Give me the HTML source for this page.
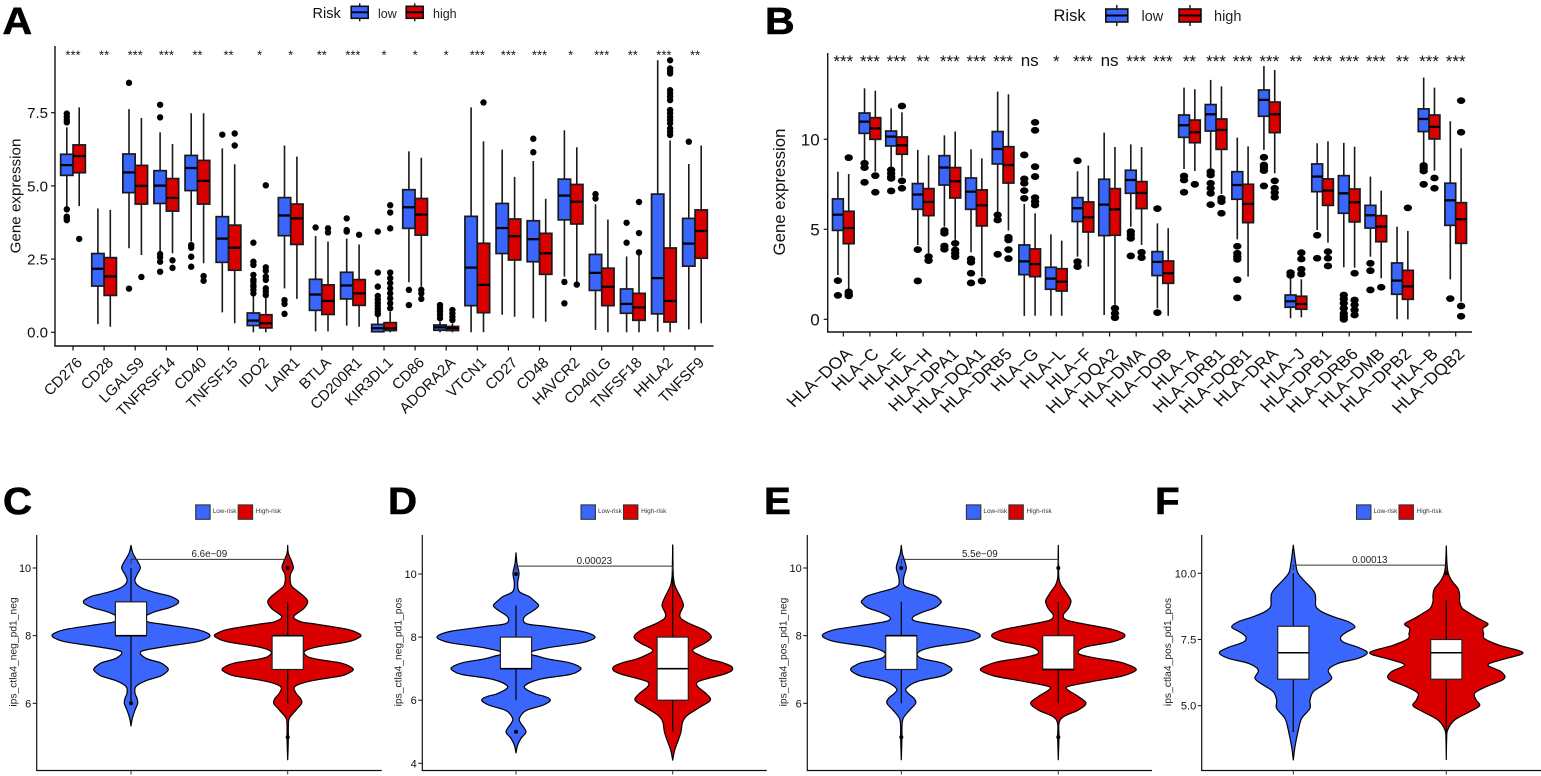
<!DOCTYPE html>
<html lang="en">
<head>
<meta charset="utf-8">
<title>Immune checkpoint, HLA expression and IPS by risk group</title>
<style>
html,body{margin:0;padding:0;background:#fff}
svg{display:block;font-family:"Liberation Sans",Arial,sans-serif}
.letter{font-size:38px;font-weight:700;fill:#000;stroke:#000;stroke-width:.6px}
</style>
</head>
<body>
<svg id="figure" xmlns="http://www.w3.org/2000/svg" width="1541" height="776" viewBox="0 0 1541 776">
  <rect width="1541" height="776" fill="#fff"/>
  <text class="letter" transform="translate(2.5,34) scale(1.08,1)">A</text>
  <text class="letter" transform="translate(765,34) scale(1.08,1)">B</text>
  <text class="letter" transform="translate(3,514) scale(1.06,1)">C</text>
  <text class="letter" transform="translate(388,514) scale(1.06,1)">D</text>
  <text class="letter" transform="translate(764,514) scale(1.06,1)">E</text>
  <text class="letter" transform="translate(1155,514) scale(1.06,1)">F</text>
</svg>
<script>
/* ---------- Panel A data ---------- */
const aCategories=["CD276","CD28","LGALS9","TNFRSF14","CD40","TNFSF15","IDO2","LAIR1","BTLA","CD200R1","KIR3DL1","CD86","ADORA2A","VTCN1","CD27","CD48","HAVCR2","CD40LG","TNFSF18","HHLA2","TNFSF9"];
const aSignificance=["***","**","***","***","**","**","*","*","**","***","*","*","*","***","***","***","*","***","**","***","**"];
const aYTicks=[0,2.5,5,7.5];
const aYTickLabels=["0.0","2.5","5.0","7.5"];
/* each row: lower whisker, q1, median, q3, upper whisker */
const aLowStats=[[4.29,5.36,5.71,6.08,7.0],[.28,1.58,2.17,2.69,4.23],[2.87,4.77,5.46,6.09,7.62],[2.75,4.4,5.01,5.52,6.83],[3.1,4.84,5.61,6.04,7.48],[.68,2.39,3.2,3.95,6.28],[0,.23,.4,.66,1.33],[1.5,3.3,3.99,4.6,6.38],[.03,.75,1.29,1.81,3.29],[.23,1.14,1.6,2.05,3.2],[0,.02,.14,.27,.59],[1.71,3.55,4.27,4.87,6.18],[0,.07,.17,.25,.36],[0,.91,2.21,3.96,7.68],[.6,2.69,3.56,4.4,6.24],[.48,2.41,3.18,3.81,5.85],[1.9,3.84,4.67,5.23,6.9],[.08,1.43,2.03,2.66,4.37],[0,.65,.97,1.48,2.59],[.02,.63,1.85,4.72,9.29],[.1,2.26,3.03,3.89,5.75]];
const aHighStats=[[4.31,5.45,6.02,6.4,7.68],[.19,1.26,1.91,2.55,4.18],[2.64,4.38,5.0,5.7,7.32],[2.7,4.14,4.59,5.25,6.43],[2.36,4.38,5.17,5.87,7.48],[.31,2.12,2.89,3.66,5.74],[0,.15,.31,.6,1.22],[1.14,3.0,3.89,4.38,6.0],[.03,.61,1.07,1.62,3.1],[.19,.92,1.33,1.8,3.0],[0,.06,.14,.33,.7],[1.56,3.32,4.02,4.57,5.96],[0,.06,.14,.2,.3],[0,.67,1.62,3.04,6.52],[.53,2.47,3.28,3.87,5.31],[.36,1.98,2.7,3.38,4.56],[1.73,3.7,4.46,5.05,6.32],[0,.91,1.55,2.19,3.85],[0,.41,.85,1.33,2.64],[0,.35,1.07,2.88,6.55],[.31,2.53,3.46,4.18,6.38]];
const aLowOutliers=[[7.47,7.36,7.25,7.17,4.2,3.95,3.9,3.83],[],[8.52,1.49],[7.77,7.34,2.67,2.56,2.41,2.07],[2.98,2.89,2.58,2.24],[6.75],[3.06,2.41,2.3,1.96,1.8,1.73,1.62,1.56,1.45,1.33],[1.1,.97,.63],[3.58],[3.89,3.49,3.44],[3.44,2.04,1.56,1.24,1.12,1.0,.9,.8,.7,.62],[1.45,.93],[.93,.82,.71,.6,.48],[],[],[6.61,6.15],[1.72,.99],[4.72,4.57],[3.74,3.06],[],[6.51]];
const aHighOutliers=[[3.19],[],[1.89],[2.46,2.2],[1.92,1.76],[6.79,6.38],[5.02,2.22,2.1,1.9,1.79,1.5,1.39,1.27],[],[3.55,3.41],[3.33],[4.34,4.09,3.55,2.04,1.85,1.68,1.5,1.33,1.16,.99,.82],[1.45,1.33,1.14],[.76,.65,.53,.42],[7.85],[],[],[1.63],[],[4.45,3.39,2.73],[9.29,9.01,8.93,8.84,8.27,8.16,8.05,7.93,7.59,7.48,7.36,7.25,7.14,6.96,6.85,6.74],[]];

/* ---------- Panel B data ---------- */
const bCategories=["HLA\u2212DOA","HLA\u2212C","HLA\u2212E","HLA\u2212H","HLA\u2212DPA1","HLA\u2212DQA1","HLA\u2212DRB5","HLA\u2212G","HLA\u2212L","HLA\u2212F","HLA\u2212DQA2","HLA\u2212DMA","HLA\u2212DOB","HLA\u2212A","HLA\u2212DRB1","HLA\u2212DQB1","HLA\u2212DRA","HLA\u2212J","HLA\u2212DPB1","HLA\u2212DRB6","HLA\u2212DMB","HLA\u2212DPB2","HLA\u2212B","HLA\u2212DQB2"];
const bSignificance=["***","***","***","**","***","***","***","ns","*","***","ns","***","***","**","***","***","***","**","***","***","***","**","***","***"];
const bYTicks=[0,5,10];
const bYTickLabels=["0","5","10"];
const bLowStats=[[2.46,4.94,5.81,6.69,8.2],[8.85,10.33,10.98,11.46,12.83],[8.48,9.63,10.15,10.46,11.72],[4.13,6.11,6.93,7.54,9.41],[5.15,7.46,8.43,9.09,10.22],[3.72,6.11,7.09,7.85,9.44],[5.98,8.63,9.46,10.43,12.65],[.19,2.48,3.22,4.13,6.41],[.2,1.67,2.26,2.89,4.72],[3.48,5.43,6.17,6.76,8.22],[.24,4.65,6.37,7.78,10.37],[5.15,7.0,7.74,8.28,9.72],[.61,2.43,3.19,3.76,5.33],[8.35,10.11,10.78,11.35,12.87],[8.39,10.46,11.39,11.93,13.3],[4.44,6.67,7.46,8.2,10.09],[9.41,11.28,12.19,12.74,14.07],[.06,.67,1.0,1.35,2.37],[4.96,7.09,7.93,8.63,9.78],[2.89,5.89,7.0,7.98,9.8],[3.48,5.07,5.78,6.33,7.93],[0,1.39,2.15,3.13,5.15],[8.67,10.43,11.13,11.69,13.43],[2.22,5.22,6.61,7.56,11.0]];
const bHighStats=[[1.63,4.2,5.07,6.0,8.07],[8.2,10.0,10.61,11.2,12.7],[7.93,9.17,9.67,10.13,11.5],[3.67,5.76,6.52,7.26,9.11],[4.41,6.74,7.67,8.43,10.43],[2.37,5.19,6.33,7.19,8.94],[4.93,7.57,8.57,9.59,12.5],[.2,2.37,3.07,3.91,5.89],[.2,1.57,2.09,2.81,4.37],[2.93,4.85,5.67,6.52,8.54],[.8,4.67,6.11,7.26,9.57],[4.13,6.15,7.02,7.65,9.57],[.2,2.0,2.56,3.24,5.06],[8.24,9.81,10.39,11.07,12.78],[6.96,9.44,10.52,11.13,12.94],[2.37,5.37,6.41,7.5,9.61],[8.11,10.37,11.39,12.07,13.85],[.11,.56,.85,1.28,2.22],[4.26,6.33,7.15,7.8,9.89],[2.87,5.41,6.5,7.24,9.59],[2.28,4.31,5.15,5.76,7.15],[0,1.11,1.83,2.72,4.91],[8.26,10.02,10.69,11.35,12.87],[.98,4.22,5.56,6.48,9.5]];
const bLowOutliers=[[2.15,1.33],[8.67,8.43,7.61],[8.3,8.11,7.93,7.83,7.13],[3.87,2.13],[4.93,4.78,4.07,3.89],[3.35,3.17,2.56,2.02],[5.8,5.52,3.61],[9.13,7.8,7.56,7.15,6.72],[],[8.81,3.2,2.93],[],[4.87,4.69,4.5,3.52],[6.15,.37],[7.96,7.74,7.06],[8.2,8.02,7.56,7.28,7.0,6.37],[4.06,3.67,3.48,3.33,2.2,1.19],[9.0,8.57,8.43,8.26,7.41],[2.59,2.44],[4.67,3.39],[1.35,1.13,.89,.61,.33,.15,0],[3.11,2.7,1.63],[],[8.54,8.39,8.24,7.5],[1.15]];
const bHighOutliers=[[8.98,1.52,1.37,1.3],[7.98,7.06],[11.85,7.69,7.28],[3.48,3.26],[4.22,3.85,3.67,3.48],[2.13],[4.56,4.41,3.87,3.37],[10.94,10.5,8.48,7.93,6.76,6.54,6.35],[],[],[.61,.33,.09],[3.72,3.43],[],[7.5],[6.72,6.54,5.89],[],[7.69,7.28,7.04,6.78],[3.7,3.35,2.78,2.52],[3.76,3.39,2.96],[2.56,1.07,.8,.52,.24],[1.78],[6.19],[7.85,7.28],[12.15,10.39,.74,.17]];

/* ---------- Panels C-F data: [level, density] profiles ---------- */
const cYTicks=[6,8,10];
const cYTickLabels=["6","8","10"];
const cLowDensity=[[10.67,0],[10.43,6],[10.19,20],[10,28],[9.79,17],[9.6,12],[9.42,30],[9.28,70],[9.18,113],[9.08,136],[9,143],[8.92,136],[8.82,113],[8.7,70],[8.55,40],[8.41,50],[8.34,93],[8.19,193],[8.08,228],[8,237],[7.92,228],[7.81,193],[7.66,93],[7.53,30],[7.33,45],[7.2,88],[7.08,106],[7,112],[6.92,106],[6.8,88],[6.67,45],[6.5,15],[6.3,12],[6.15,18],[6,20],[5.8,12],[5.56,4],[5.33,0]];
const cHighDensity=[[10.67,0],[10.43,2],[10.19,12],[10,17],[9.8,8],[9.5,10],[9.35,25],[9.15,50],[9,60],[8.8,48],[8.56,18],[8.41,40],[8.34,85],[8.19,177],[8.08,210],[8,220],[7.92,210],[7.81,177],[7.66,85],[7.53,50],[7.38,60],[7.3,90],[7.19,160],[7.08,188],[7,197],[6.92,188],[6.81,160],[6.66,70],[6.5,22],[6.3,25],[6.15,38],[6,42],[5.8,25],[5.56,5],[5.31,2],[5,2],[4.6,1],[4.33,0]];
const cLowBox=[6,8,8,9,10];
const cHighBox=[6,7,8,8,9];
const cLowOutliers=[6];
const cHighOutliers=[10,5];

const dYTicks=[4,6,8,10];
const dYTickLabels=["4","6","8","10"];
const dLowDensity=[[10.67,0],[10.33,3],[10.02,9],[9.7,5],[9.44,10],[9.28,40],[9.12,58],[9,68],[8.86,55],[8.64,25],[8.43,30],[8.34,90],[8.19,193],[8.08,228],[8,237],[7.92,228],[7.81,193],[7.66,95],[7.5,40],[7.38,70],[7.3,100],[7.19,160],[7.08,187],[7,195],[6.92,187],[6.81,160],[6.66,70],[6.43,25],[6.21,55],[6.14,80],[6.07,97],[6,103],[5.93,97],[5.83,78],[5.67,30],[5.42,10],[5.26,15],[5,30],[4.79,15],[4.58,5],[4.33,0]];
const dHighDensity=[[10.92,0],[10.23,1],[9.91,2],[9.65,6],[9.44,15],[9.23,25],[9,32],[8.75,22],[8.59,25],[8.43,50],[8.22,95],[8,116],[7.8,95],[7.59,60],[7.43,80],[7.3,110],[7.19,150],[7.08,175],[7,180],[6.92,175],[6.81,150],[6.7,110],[6.58,75],[6.43,75],[6.21,100],[6,113],[5.8,85],[5.53,45],[5.32,30],[5,25],[4.74,17],[4.42,6],[4.1,0]];
const dLowBox=[6,7,7,8,9];
const dHighBox=[5,6,7,8,10.9];
const dLowOutliers=[10,5];
const dHighOutliers=[];

const eYTicks=[6,8,10];
const eYTickLabels=["6","8","10"];
const eLowDensity=[[10.67,0],[10.43,3],[10.24,9],[10,15],[9.75,8],[9.5,8],[9.38,30],[9.3,60],[9.18,100],[9.08,114],[9,120],[8.92,114],[8.82,100],[8.68,60],[8.55,35],[8.44,40],[8.34,93],[8.19,193],[8.08,228],[8,237],[7.92,228],[7.81,193],[7.66,93],[7.5,50],[7.33,60],[7.2,120],[7.08,145],[7,152],[6.92,145],[6.8,120],[6.65,50],[6.44,15],[6.3,20],[6.15,38],[6,43],[5.8,25],[5.56,6],[5.31,2],[5,2],[4.33,0]];
const eHighDensity=[[10.67,0],[9.94,1],[9.69,2],[9.5,8],[9.3,22],[9.1,35],[9,38],[8.8,30],[8.61,15],[8.46,25],[8.34,80],[8.19,160],[8.08,192],[8,200],[7.92,192],[7.81,160],[7.66,80],[7.48,60],[7.36,100],[7.22,185],[7.08,224],[7,234],[6.92,224],[6.8,190],[6.64,100],[6.5,30],[6.4,28],[6.2,60],[6,83],[5.8,60],[5.6,15],[5.4,2],[5,2],[4.33,0]];
const eLowBox=[6,7,8,8,9];
const eHighBox=[6,7,7,8,9];
const eLowOutliers=[10,5];
const eHighOutliers=[10,5];

const fYTicks=[5,7.5,10];
const fYTickLabels=["5.0","7.5","10.0"];
const fLowDensity=[[11.06,0],[10.76,3],[10.31,8],[10,14],[9.69,35],[9.43,55],[9.24,65],[9.06,67],[8.74,68],[8.55,85],[8.36,120],[8.17,165],[7.97,185],[7.78,160],[7.59,142],[7.4,150],[7.2,195],[7,222],[6.79,195],[6.6,135],[6.35,105],[6.03,115],[5.78,90],[5.53,60],[5.21,50],[4.9,50],[4.52,25],[4.08,15],[3.45,5],[2.95,0]];
const fHighDensity=[[11.03,0],[10.38,2],[10,6],[9.69,18],[9.43,35],[9.18,40],[8.93,40],[8.68,48],[8.49,70],[8.3,95],[8.09,125],[7.92,110],[7.72,112],[7.53,115],[7.28,160],[7,230],[6.75,170],[6.54,125],[6.28,165],[6.01,173],[5.72,120],[5.47,85],[5.21,90],[5,100],[4.77,70],[4.46,25],[4.08,4],[3.7,1],[2.97,0]];
const fLowBox=[4,6,7,8,10];
const fHighBox=[4,6,7,7.5,9];
const fLowOutliers=[];
const fHighOutliers=[10];

/* ---------- helpers ---------- */
const NS='http://www.w3.org/2000/svg';
const BLUE='#3a66fd';
const RED='#da0000';
const figure=document.getElementById('figure');
function el(tag,attrs,parent){
  const n=document.createElementNS(NS,tag);
  for(const k in attrs)n.setAttribute(k,attrs[k]);
  parent.appendChild(n);
  return n;
}
function linear(d0,d1,r0,r1){return v=>r0+(v-d0)*(r1-r0)/(d1-d0);}
function group(parent){return el('g',{},parent);}

function drawAxes(g,o){
  const yAxis=el('line',{x1:o.axisX,x2:o.axisX,y1:o.axisTop,y2:o.axisY,stroke:'#111','stroke-width':o.axisW},g);
  
  
  const xAxis=el('line',{x1:o.axisX-o.axisW/2,x2:o.axisRight,y1:o.axisY,y2:o.axisY,stroke:'#111','stroke-width':o.axisW},g);
  
  
  o.yTicks.forEach((v,i)=>{
    const t=el('line',{x1:o.axisX-4,x2:o.axisX,y1:o.y(v),y2:o.y(v),stroke:'#111','stroke-width':o.axisW*.85},g);
    
    
    const lab=el('text',{x:o.axisX-o.labelGap,y:o.y(v)+o.tickFont*.36,'text-anchor':'end','font-size':o.tickFont,fill:'#111'},g);
    lab.textContent=o.yLabels[i];
    
    
  });
  const title=el('text',{transform:`translate(${o.titleX},${(o.titleY)}) rotate(-90)`,'text-anchor':'middle','font-size':o.titleFont,fill:o.titleFill||'#111'},g);
  title.textContent=o.title;
  
  
}

function drawBoxPart(g,cx,st,outs,color,y,o){
  const [lo,q1,med,q3,hi]=st;
  const w=el('line',{x1:cx,x2:cx,y1:y(hi),y2:y(lo),stroke:'#1a1a1a','stroke-width':1.6},g);
  
  
  outs.forEach(v=>{
    const d=el('ellipse',{cx:cx,cy:y(v),rx:o.rx,ry:o.ry,fill:'#000'},g);
    
    
  });
  const r=el('rect',{x:cx-o.boxW/2,y:y(q3),width:o.boxW,height:Math.max(y(q1)-y(q3),.5),fill:color,stroke:'#1a1a1a','stroke-width':1.7},g);
  
  
  const m=el('line',{x1:cx-o.boxW/2,x2:cx+o.boxW/2,y1:y(med),y2:y(med),stroke:'#000','stroke-width':2.3},g);
  
  
}

function drawBoxPanel(name,o){
  const g=group(figure);
  
  
  o.categories.forEach((c,i)=>{
    const x=o.x(i);
    const cg=group(g);
    
    
    drawBoxPart(cg,x-o.offset,o.low[i],o.lowOut[i],BLUE,o.y,o);
    drawBoxPart(cg,x+o.offset,o.high[i],o.highOut[i],RED,o.y,o);
    const tick=el('line',{x1:x,x2:x,y1:o.axisY,y2:o.axisY+4.5,stroke:'#111','stroke-width':1.2},g);
    
    
    const lab=el('text',{transform:`translate(${x+o.labelDx},${o.axisY+o.labelDy}) scale(${o.labelStretch},1) rotate(-45)`,'text-anchor':'end','font-size':o.xFont,fill:'#111'},g);
    lab.textContent=c;
    
    
    const s=o.sig[i];
    const st=el('text',{x:x,y:s==='ns'?o.nsY:o.starY,'text-anchor':'middle','font-size':o.sigFont,fill:'#111'},g);
    st.textContent=s;
    
    
  });
  drawAxes(g,o);
}

function drawRiskLegend(name,o){
  const g=group(figure);
  
  
  const t=el('text',{x:o.titleX,y:o.baseY,'font-size':o.titleFont,fill:'#111'},g);
  t.textContent='Risk';
  
  
  [['low',BLUE,o.lowX,o.lowText],['high',RED,o.highX,o.highText]].forEach(e=>{
    const eg=group(g);
    
    
    const cx=e[2]+o.keyW/2;
    el('line',{x1:cx,x2:cx,y1:o.keyY-o.whisk,y2:o.keyY+o.keyH+o.whisk,stroke:'#111','stroke-width':1.4},eg);
    el('rect',{x:e[2],y:o.keyY,width:o.keyW,height:o.keyH,fill:e[1],stroke:'#111','stroke-width':1.6},eg);
    el('line',{x1:e[2],x2:e[2]+o.keyW,y1:o.keyY+o.keyH/2,y2:o.keyY+o.keyH/2,stroke:'#000','stroke-width':1.9},eg);
    const lb=el('text',{x:e[3],y:o.baseY,'font-size':o.labelFont,fill:'#222'},eg);
    lb.textContent=e[0];
  });
}

function smoothPath(points){
  let d='';
  for(let i=0;i<points.length-1;i++){
    const p0=points[Math.max(i-1,0)],p1=points[i],p2=points[i+1],p3=points[Math.min(i+2,points.length-1)];
    const k=1/6;
    d+=`C${p1[0]+(p2[0]-p0[0])*k},${p1[1]+(p2[1]-p0[1])*k} ${p2[0]-(p3[0]-p1[0])*k},${p2[1]-(p3[1]-p1[1])*k} ${p2[0]},${p2[1]}`;
  }
  return d;
}

function drawViolin(g,label,cx,profile,box,outs,color,y){
  const widthScale=d=>d/3;
  const right=profile.map(p=>[cx+widthScale(p[1]),y(p[0])]);
  const left=profile.slice().reverse().map(p=>[cx-widthScale(p[1]),y(p[0])]);
  const path=el('path',{d:`M${right[0][0]},${right[0][1]}`+smoothPath(right)+smoothPath(left)+'Z',fill:color,stroke:'#000','stroke-width':1.2,'stroke-linejoin':'round'},g);
  
  
  const [lo,q1,med,q3,hi]=box;
  const w=el('line',{x1:cx,x2:cx,y1:y(hi),y2:y(lo),stroke:'#000','stroke-width':1.2},g);
  
  
  outs.forEach(v=>{
    const d=el('circle',{cx:cx,cy:y(v),r:2,fill:'#000'},g);
    
    
  });
  const r=el('rect',{x:cx-15.6,y:y(q3),width:31.2,height:y(q1)-y(q3),fill:'#fff',stroke:'#222','stroke-width':1.2},g);
  
  
  const m=el('line',{x1:cx-15.6,x2:cx+15.6,y1:y(med),y2:y(med),stroke:'#000','stroke-width':1.6},g);
  
  
}

function drawViolinPanel(name,o){
  const g=group(figure);
  
  
  drawViolin(g,'low',o.cx1,o.lowDensity,o.lowBox,o.lowOut,BLUE,o.y);
  drawViolin(g,'high',o.cx2,o.highDensity,o.highBox,o.highOut,RED,o.y);
  drawAxes(g,o);
  [o.cx1,o.cx2].forEach(cx=>{
    const t=el('line',{x1:cx,x2:cx,y1:o.axisY,y2:o.axisY+4,stroke:'#333','stroke-width':1},g);
    
    
  });
  const by=o.y(o.bracket);
  const br=el('path',{d:`M${o.cx1},${by+5}V${by}H${o.cx2}V${by+5}`,fill:'none',stroke:'#333','stroke-width':1},g);
  
  
  const p=el('text',{x:(o.cx1+o.cx2)/2,y:by-2.2,'text-anchor':'middle','font-size':9.8,fill:'#222'},g);
  p.textContent=o.pLabel;
  
  
  [['Low-risk',BLUE,o.legendX],['High-risk',RED,o.legendX+42.5]].forEach((e,i)=>{
    const eg=group(g);
    
    
    el('rect',{x:e[2],y:504.9,width:14.4,height:14.4,fill:e[1],stroke:'#333','stroke-width':1.1},eg);
    const lb=el('text',{x:e[2]+(i?17.6:17),y:513,'font-size':6.4,fill:'#333'},eg);
    lb.textContent=e[0];
  });
}

/* ---------- Panel A ---------- */
drawBoxPanel('boxplot-panel-a',{
  categories:aCategories,sig:aSignificance,low:aLowStats,high:aHighStats,lowOut:aLowOutliers,highOut:aHighOutliers,
  x:linear(0,20,73,695),y:linear(0,7.5,332.3,112.7),
  offset:6.2,boxW:12.3,rx:3.2,ry:3.2,
  axisX:55,axisY:346,axisTop:46,axisRight:713.5,axisW:1.4,
  yTicks:aYTicks,yLabels:aYTickLabels,tickFont:15,labelGap:7,
  title:'Gene expression',titleX:20.5,titleY:196,titleFont:15.2,
  xFont:15,labelDx:10,labelDy:17.5,labelStretch:1,
  sigFont:13,starY:59.6,nsY:59.6
});
drawRiskLegend('risk-legend-a',{titleX:312.5,baseY:18,titleFont:14.5,labelFont:12.5,keyW:17,keyH:12,keyY:6.3,whisk:3,lowX:351.2,lowText:378,highX:406.2,highText:433});

/* ---------- Panel B ---------- */
drawBoxPanel('boxplot-panel-b',{
  categories:bCategories,sig:bSignificance,low:bLowStats,high:bHighStats,lowOut:bLowOutliers,highOut:bHighOutliers,
  x:linear(0,23,843.3,1455.7),y:linear(0,10,319.3,139.3),
  offset:5.4,boxW:10.8,rx:4.2,ry:3.4,
  axisX:827.7,axisY:332,axisTop:53,axisRight:1472,axisW:1.4,
  yTicks:bYTicks,yLabels:bYTickLabels,tickFont:17,labelGap:8,
  title:'Gene expression',titleX:785,titleY:192,titleFont:16.8,
  xFont:16,labelDx:10,labelDy:23,labelStretch:1.12,
  sigFont:17,starY:67,nsY:66
});
drawRiskLegend('risk-legend-b',{titleX:1053.5,baseY:21,titleFont:16.5,labelFont:14.5,keyW:22,keyH:13,keyY:9,whisk:4,lowX:1105.8,lowText:1141.5,highX:1179,highText:1214});

/* ---------- Panels C-F ---------- */
drawViolinPanel('violin-panel-c',{
  cx1:131,cx2:287.7,y:linear(6,10,703.3,568),lowDensity:cLowDensity,highDensity:cHighDensity,lowBox:cLowBox,highBox:cHighBox,lowOut:cLowOutliers,highOut:cHighOutliers,
  axisX:36.7,axisY:770.5,axisTop:535,axisRight:381.7,axisW:1.2,yTicks:cYTicks,yLabels:cYTickLabels,tickFont:11,labelGap:5.5,
  title:'ips_ctla4_neg_pd1_neg',titleX:16.5,titleY:652,titleFont:10.3,titleFill:'#222',
  bracket:10.256,pLabel:'6.6e\u221209',legendX:195.7
});
drawViolinPanel('violin-panel-d',{
  cx1:516,cx2:672.7,y:linear(4,10,763.3,574),lowDensity:dLowDensity,highDensity:dHighDensity,lowBox:dLowBox,highBox:dHighBox,lowOut:dLowOutliers,highOut:dHighOutliers,
  axisX:422.3,axisY:770.5,axisTop:535,axisRight:766.7,axisW:1.2,yTicks:dYTicks,yLabels:dYTickLabels,tickFont:11,labelGap:5.5,
  title:'ips_ctla4_neg_pd1_pos',titleX:401.5,titleY:652,titleFont:10.3,titleFill:'#222',
  bracket:10.25,pLabel:'0.00023',legendX:581
});
drawViolinPanel('violin-panel-e',{
  cx1:901.3,cx2:1058.3,y:linear(6,10,703.3,568),lowDensity:eLowDensity,highDensity:eHighDensity,lowBox:eLowBox,highBox:eHighBox,lowOut:eLowOutliers,highOut:eHighOutliers,
  axisX:807.3,axisY:770.5,axisTop:535,axisRight:1152,axisW:1.2,yTicks:eYTicks,yLabels:eYTickLabels,tickFont:11,labelGap:5.5,
  title:'ips_ctla4_pos_pd1_neg',titleX:786.5,titleY:652,titleFont:10.3,titleFill:'#222',
  bracket:10.256,pLabel:'5.5e\u221209',legendX:966.4
});
drawViolinPanel('violin-panel-f',{
  cx1:1293.3,cx2:1446.3,y:linear(5,10,705.7,573.3),lowDensity:fLowDensity,highDensity:fHighDensity,lowBox:fLowBox,highBox:fHighBox,lowOut:fLowOutliers,highOut:fHighOutliers,
  axisX:1201.7,axisY:770.5,axisTop:535,axisRight:1541,axisW:1.2,yTicks:fYTicks,yLabels:fYTickLabels,tickFont:11,labelGap:5.5,
  title:'ips_ctla4_pos_pd1_pos',titleX:1171,titleY:652,titleFont:10.3,titleFill:'#222',
  bracket:10.31,pLabel:'0.00013',legendX:1356.5
});
</script>
</body>
</html>
